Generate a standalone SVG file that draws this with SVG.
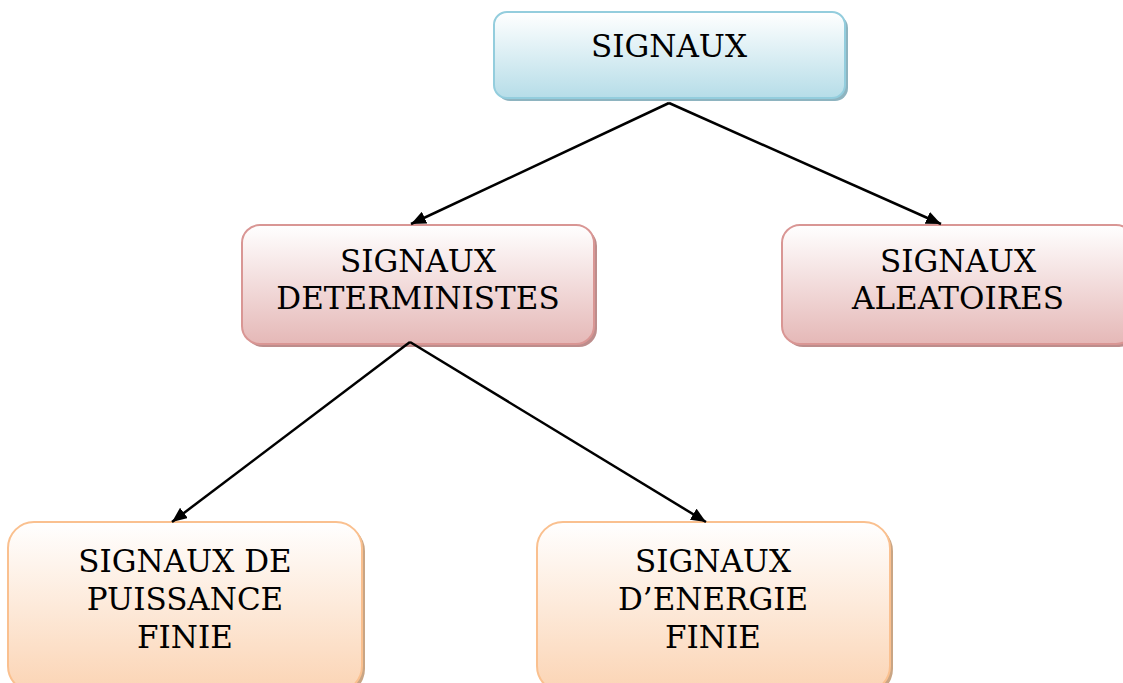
<svg xmlns="http://www.w3.org/2000/svg" width="1123" height="683" viewBox="0 0 1123 683">
<defs>
<linearGradient id="gBlue" x1="0" y1="0" x2="0" y2="1"><stop offset="0" stop-color="#ffffff"/><stop offset="1" stop-color="#b6dde8"/></linearGradient>
<linearGradient id="gPink" x1="0" y1="0" x2="0" y2="1"><stop offset="0" stop-color="#ffffff"/><stop offset="1" stop-color="#e5b8b7"/></linearGradient>
<linearGradient id="gOrange" x1="0" y1="0" x2="0" y2="1"><stop offset="0" stop-color="#ffffff"/><stop offset="1" stop-color="#fbd4b4"/></linearGradient>
<marker id="arrow" viewBox="0 0 15 13" refX="15" refY="6.5" markerWidth="15" markerHeight="13" markerUnits="userSpaceOnUse" orient="auto">
<path d="M0,0 L15,6.5 L0,13 Z" fill="#000"/>
</marker>
</defs>
<style>
.blue{fill:url(#gBlue);stroke:#93cddd;stroke-width:2}
.pink{fill:url(#gPink);stroke:#d99694;stroke-width:2}
.orange{fill:url(#gOrange);stroke:#fac08f;stroke-width:2}
.shB{fill:#8eb4c0}
.shP{fill:#bd8d8c}
.shO{fill:#c9a584}
.lbl{font-family:"DejaVu Serif","Liberation Serif",serif;font-size:31px;fill:#000;text-anchor:middle}
.con{stroke:#000;stroke-width:2.5;fill:none;marker-end:url(#arrow)}
</style>
<rect width="1123" height="683" fill="#ffffff"/>
<g id="n-signaux">
<rect class="shB" x="497" y="15" width="351" height="86" rx="13"/>
<rect class="blue" x="494" y="12" width="351" height="86" rx="13"/>
<text class="lbl" x="669" y="57">SIGNAUX</text>
</g>
<g id="n-deterministes">
<rect class="shP" x="245" y="228" width="352" height="119" rx="18"/>
<rect class="pink" x="242" y="225" width="352" height="119" rx="18"/>
<text class="lbl" x="418" y="272">SIGNAUX</text>
<text class="lbl" x="418" y="309">DETERMINISTES</text>
</g>
<g id="n-aleatoires">
<rect class="shP" x="785" y="228" width="352" height="119" rx="18"/>
<rect class="pink" x="782" y="225" width="352" height="119" rx="18"/>
<text class="lbl" x="958" y="272">SIGNAUX</text>
<text class="lbl" x="958" y="309">ALEATOIRES</text>
</g>
<g id="n-puissance">
<rect class="shO" x="11" y="525" width="354" height="170" rx="26"/>
<rect class="orange" x="8" y="522" width="354" height="170" rx="26"/>
<text class="lbl" x="185" y="572">SIGNAUX DE</text>
<text class="lbl" x="185" y="610">PUISSANCE</text>
<text class="lbl" x="185" y="648">FINIE</text>
</g>
<g id="n-energie">
<rect class="shO" x="540" y="525" width="353" height="170" rx="26"/>
<rect class="orange" x="537" y="522" width="353" height="170" rx="26"/>
<text class="lbl" x="713" y="572">SIGNAUX</text>
<text class="lbl" x="713" y="610">D’ENERGIE</text>
<text class="lbl" x="713" y="648">FINIE</text>
</g>
<g id="connectors">
<line class="con" x1="669" y1="103" x2="411" y2="224"/>
<line class="con" x1="669" y1="103" x2="941" y2="224"/>
<line class="con" x1="410" y1="342" x2="172" y2="522"/>
<line class="con" x1="410" y1="342" x2="706" y2="522"/>
</g>
</svg>
